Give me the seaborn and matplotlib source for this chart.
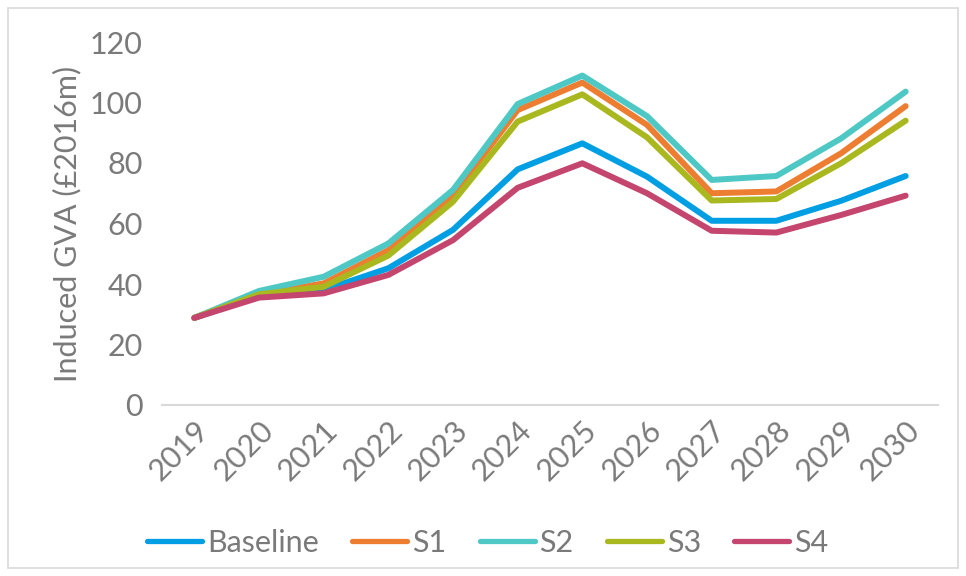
import matplotlib
matplotlib.use("Agg")
import matplotlib.pyplot as plt
from matplotlib.patches import Rectangle
import seaborn as sns
import pandas as pd

years = ["2019", "2020", "2021", "2022", "2023", "2024",
         "2025", "2026", "2027", "2028", "2029", "2030"]
baseline = [28.8, 36.0, 38.0, 45.2, 57.9, 77.9, 86.5, 75.5, 60.9, 60.9, 67.5, 75.7]
s1 = [28.8, 36.6, 40.2, 51.2, 69.4, 97.5, 106.6, 92.6, 70.0, 70.6, 83.2, 98.8]
s2 = [28.8, 37.7, 42.4, 53.4, 71.1, 99.5, 108.9, 95.5, 74.4, 75.7, 88.1, 103.6]
s3 = [28.8, 36.6, 39.1, 49.4, 67.2, 93.7, 102.7, 88.5, 67.6, 68.1, 79.9, 94.0]
s4 = [28.8, 35.5, 36.9, 43.0, 54.5, 71.8, 79.9, 70.0, 57.6, 57.0, 62.8, 69.2]

series_names = ["Baseline", "S1", "S2", "S3", "S4"]
series_values = [baseline, s1, s2, s3, s4]
colors = ["#009FE3", "#ED7D31", "#4DC8C4", "#A9B81F", "#C4456E"]

rows = []
for name, vals in zip(series_names, series_values):
    for i, v in enumerate(vals):
        rows.append({"idx": i, "year": years[i], "value": v, "scenario": name})
df = pd.DataFrame(rows)

sns.set_style("white")
plt.rcParams["font.family"] = ["Lato", "DejaVu Sans"]
text_color = "#7A7A7A"
fsize = 22

fig = plt.figure(figsize=(9.66, 5.76), dpi=100)
ax = fig.add_axes([162 / 966, 1 - 405 / 576, 776 / 966, 363 / 576])

sns.lineplot(data=df, x="idx", y="value", hue="scenario",
             hue_order=series_names, palette=colors, linewidth=4.3,
             solid_capstyle="round", ax=ax, legend=True)

ax.set_xlim(-0.5, len(years) - 0.5)
ax.set_ylim(0, 120)
ax.set_yticks(range(0, 121, 20))
ax.set_xticks(range(len(years)))
ax.set_xticklabels(years, rotation=45, ha="right", va="top",
                   rotation_mode="anchor")
for lab in ax.get_xticklabels() + ax.get_yticklabels():
    lab.set_fontsize(fsize)
    lab.set_color(text_color)
ax.tick_params(axis="y", length=0, pad=14)
ax.tick_params(axis="x", length=0, pad=8)
ax.set_xlabel("")
ax.set_ylabel("Induced GVA (£2016m)", fontsize=fsize, color=text_color,
              labelpad=6)

for side in ["top", "right", "left"]:
    ax.spines[side].set_visible(False)
ax.spines["bottom"].set_color("#D9D9D9")
ax.spines["bottom"].set_linewidth(1.5)

handles, labels = ax.get_legend_handles_labels()
ax.legend_.remove()
leg = fig.legend(handles, labels, loc="center", ncol=5,
                 bbox_to_anchor=(0.505, 1 - 543 / 576), frameon=False,
                 fontsize=fsize, handlelength=1.8, handletextpad=0.15,
                 columnspacing=1.1)
for t in leg.get_texts():
    t.set_color(text_color)
for h in leg.get_lines():
    h.set_linewidth(3.8)
    h.set_solid_capstyle("round")

fig.patches.append(Rectangle((8 / 966, 8 / 576), 950 / 966, 560 / 576,
                             transform=fig.transFigure, fill=False,
                             edgecolor="#D9D9D9", linewidth=1.2))

fig.savefig("out.png", dpi=100)
